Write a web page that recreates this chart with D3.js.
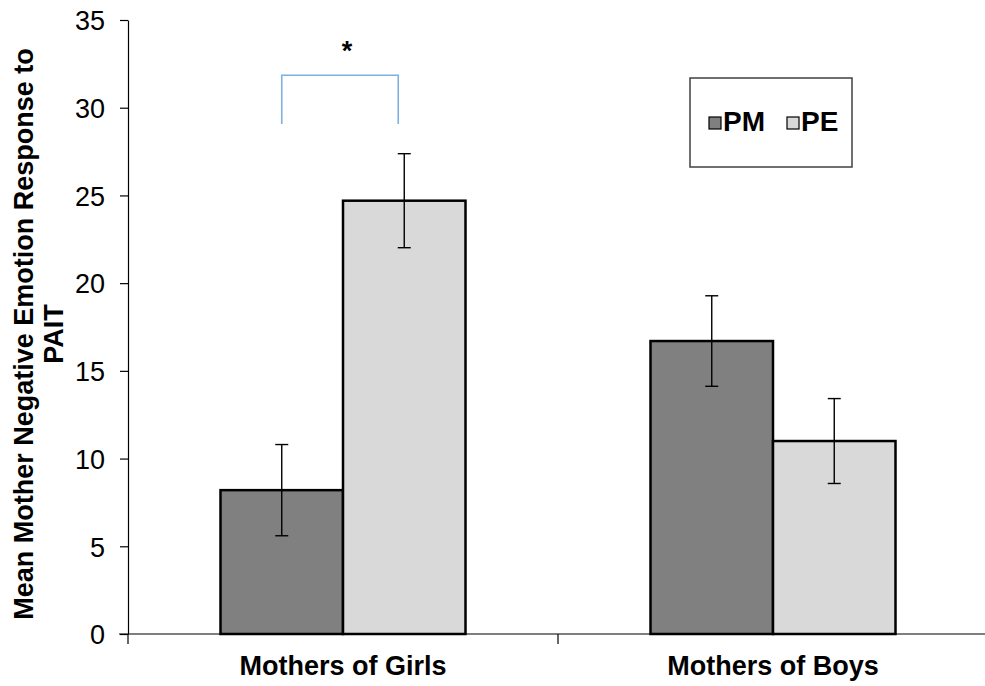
<!DOCTYPE html>
<html>
<head>
<meta charset="utf-8">
<script src="https://cdn.jsdelivr.net/npm/d3@7"></script>
<style>
  html, body { margin: 0; padding: 0; background: #fff; }
  svg { display: block; font-family: "Liberation Sans", Arial, sans-serif; }
</style>
</head>
<body>
<script>
// Data
const groups = ["Mothers of Girls", "Mothers of Boys"];
const conditions = ["PM", "PE"];
const means = {
    "Mothers of Girls": [8.2, 24.7],
    "Mothers of Boys": [16.7, 11.0]
};
const errors = {
    "Mothers of Girls": [2.6, 2.68],
    "Mothers of Boys": [2.58, 2.42]
};
const yTicks = [0, 5, 10, 15, 20, 25, 30, 35];
const sigBracket = { group: "Mothers of Girls", low: 29.07, high: 31.85, label: "*" };

const FILLS = { PM: "#808080", PE: "#d9d9d9" };

const WIDTH = 985, HEIGHT = 686;

const svg = d3.select("body").append("svg")
    .attr("width", WIDTH)
    .attr("height", HEIGHT);

// scales
const y = d3.scaleLinear().domain([0, 35]).range([634, 20]);
const x = d3.scaleBand().domain(groups).range([128, 988]).padding(0);
const groupW = 245;
const xSub = d3.scaleBand().domain(conditions).range([0, groupW]).padding(0);
const groupLeft = g => x(g) + (x.bandwidth() - groupW) / 2;

// ----- y axis -----
const yAxis = d3.axisLeft(y)
    .tickValues(yTicks)
    .tickSize(8)
    .tickSizeOuter(0)
    .tickPadding(15)
    .tickFormat(d3.format("d"));

const yg = svg.append("g")
    .attr("transform", `translate(${x.range()[0]},0)`)
    .call(yAxis);
yg.select(".domain").attr("stroke", "#000").attr("stroke-width", 1.2);
yg.selectAll(".tick line").attr("stroke", "#000").attr("stroke-width", 1.2);
yg.selectAll(".tick text")
    .attr("fill", "#000")
    .style("font-size", "27px")
    .attr("dy", "0.36em");

// y title
const yTitle = svg.append("text")
    .attr("transform", "translate(0,334) rotate(-90)")
    .attr("text-anchor", "middle")
    .style("font-size", "27px")
    .style("font-weight", "bold")
    .attr("fill", "#000");
yTitle.append("tspan").attr("x", 0).attr("y", 33)
    .text("Mean Mother Negative Emotion Response to");
yTitle.append("tspan").attr("x", 0).attr("y", 63)
    .text("PAIT");

// ----- bars -----
const gGroups = svg.append("g").selectAll("g")
    .data(groups)
    .enter()
    .append("g")
        .attr("transform", g => `translate(${groupLeft(g)},0)`);

gGroups.selectAll("rect")
    .data(g => conditions.map((c, i) => ({ c, v: means[g][i] })))
    .enter()
    .append("rect")
        .attr("x", d => xSub(d.c))
        .attr("y", d => y(d.v))
        .attr("width", xSub.bandwidth())
        .attr("height", d => y(0) - y(d.v))
        .attr("fill", d => FILLS[d.c])
        .attr("stroke", "#000")
        .attr("stroke-width", 2.5);

// error bars
const err = gGroups.selectAll("g.err")
    .data(g => conditions.map((c, i) => ({ c, v: means[g][i], e: errors[g][i] })))
    .enter()
    .append("g")
        .attr("class", "err")
        .attr("transform", d => `translate(${xSub(d.c) + xSub.bandwidth() / 2},0)`)
        .attr("stroke", "#000")
        .attr("stroke-width", 1.4);
err.append("line")
    .attr("y1", d => y(d.v + d.e))
    .attr("y2", d => y(d.v - d.e));
err.append("line")
    .attr("x1", -6.5).attr("x2", 6.5)
    .attr("y1", d => y(d.v + d.e)).attr("y2", d => y(d.v + d.e));
err.append("line")
    .attr("x1", -6.5).attr("x2", 6.5)
    .attr("y1", d => y(d.v - d.e)).attr("y2", d => y(d.v - d.e));

// ----- x axis -----
const xg = svg.append("g").attr("stroke", "#000").attr("stroke-width", 1.2);
xg.append("line")
    .attr("x1", x.range()[0] - 9).attr("x2", WIDTH)
    .attr("y1", y(0)).attr("y2", y(0));
xg.selectAll("line.tick")
    .data(groups)
    .enter()
    .append("line")
        .attr("class", "tick")
        .attr("x1", g => x(g)).attr("x2", g => x(g))
        .attr("y1", y(0)).attr("y2", y(0) + 10);

svg.append("g").selectAll("text")
    .data(groups)
    .enter()
    .append("text")
        .attr("x", g => x(g) + x.bandwidth() / 2)
        .attr("y", 675)
        .attr("text-anchor", "middle")
        .style("font-size", "27px")
        .style("font-weight", "bold")
        .attr("fill", "#000")
        .text(g => g);

// ----- significance bracket -----
const bx0 = groupLeft(sigBracket.group) + xSub("PM") + xSub.bandwidth() / 2;
const bx1 = groupLeft(sigBracket.group) + xSub("PE") + xSub.bandwidth() / 2 - 6;
svg.append("path")
    .attr("d", `M${bx0},${y(sigBracket.low)}V${y(sigBracket.high)}H${bx1}V${y(sigBracket.low)}`)
    .attr("fill", "none")
    .attr("stroke", "#7eb0e0")
    .attr("stroke-width", 1.6);
svg.append("text")
    .attr("x", (bx0 + bx1) / 2 + 7)
    .attr("y", 60)
    .attr("text-anchor", "middle")
    .style("font-size", "27px")
    .style("font-weight", "bold")
    .attr("fill", "#000")
    .text(sigBracket.label);

// ----- legend -----
const legend = svg.append("g").attr("transform", "translate(690,78)");
legend.append("rect")
    .attr("width", 162).attr("height", 89)
    .attr("fill", "#fff")
    .attr("stroke", "#404040")
    .attr("stroke-width", 1.5);
const legendX = d3.scaleOrdinal().domain(conditions).range([19, 97]);
const items = legend.selectAll("g.item")
    .data(conditions)
    .enter()
    .append("g")
        .attr("class", "item")
        .attr("transform", c => `translate(${legendX(c)},39)`);
items.append("rect")
    .attr("width", 12).attr("height", 12)
    .attr("fill", c => FILLS[c])
    .attr("stroke", "#000")
    .attr("stroke-width", 1.2);
items.append("text")
    .attr("x", 14)
    .attr("y", 14)
    .style("font-size", "28px")
    .style("font-weight", "bold")
    .attr("fill", "#000")
    .text(c => c);
</script>
</body>
</html>
